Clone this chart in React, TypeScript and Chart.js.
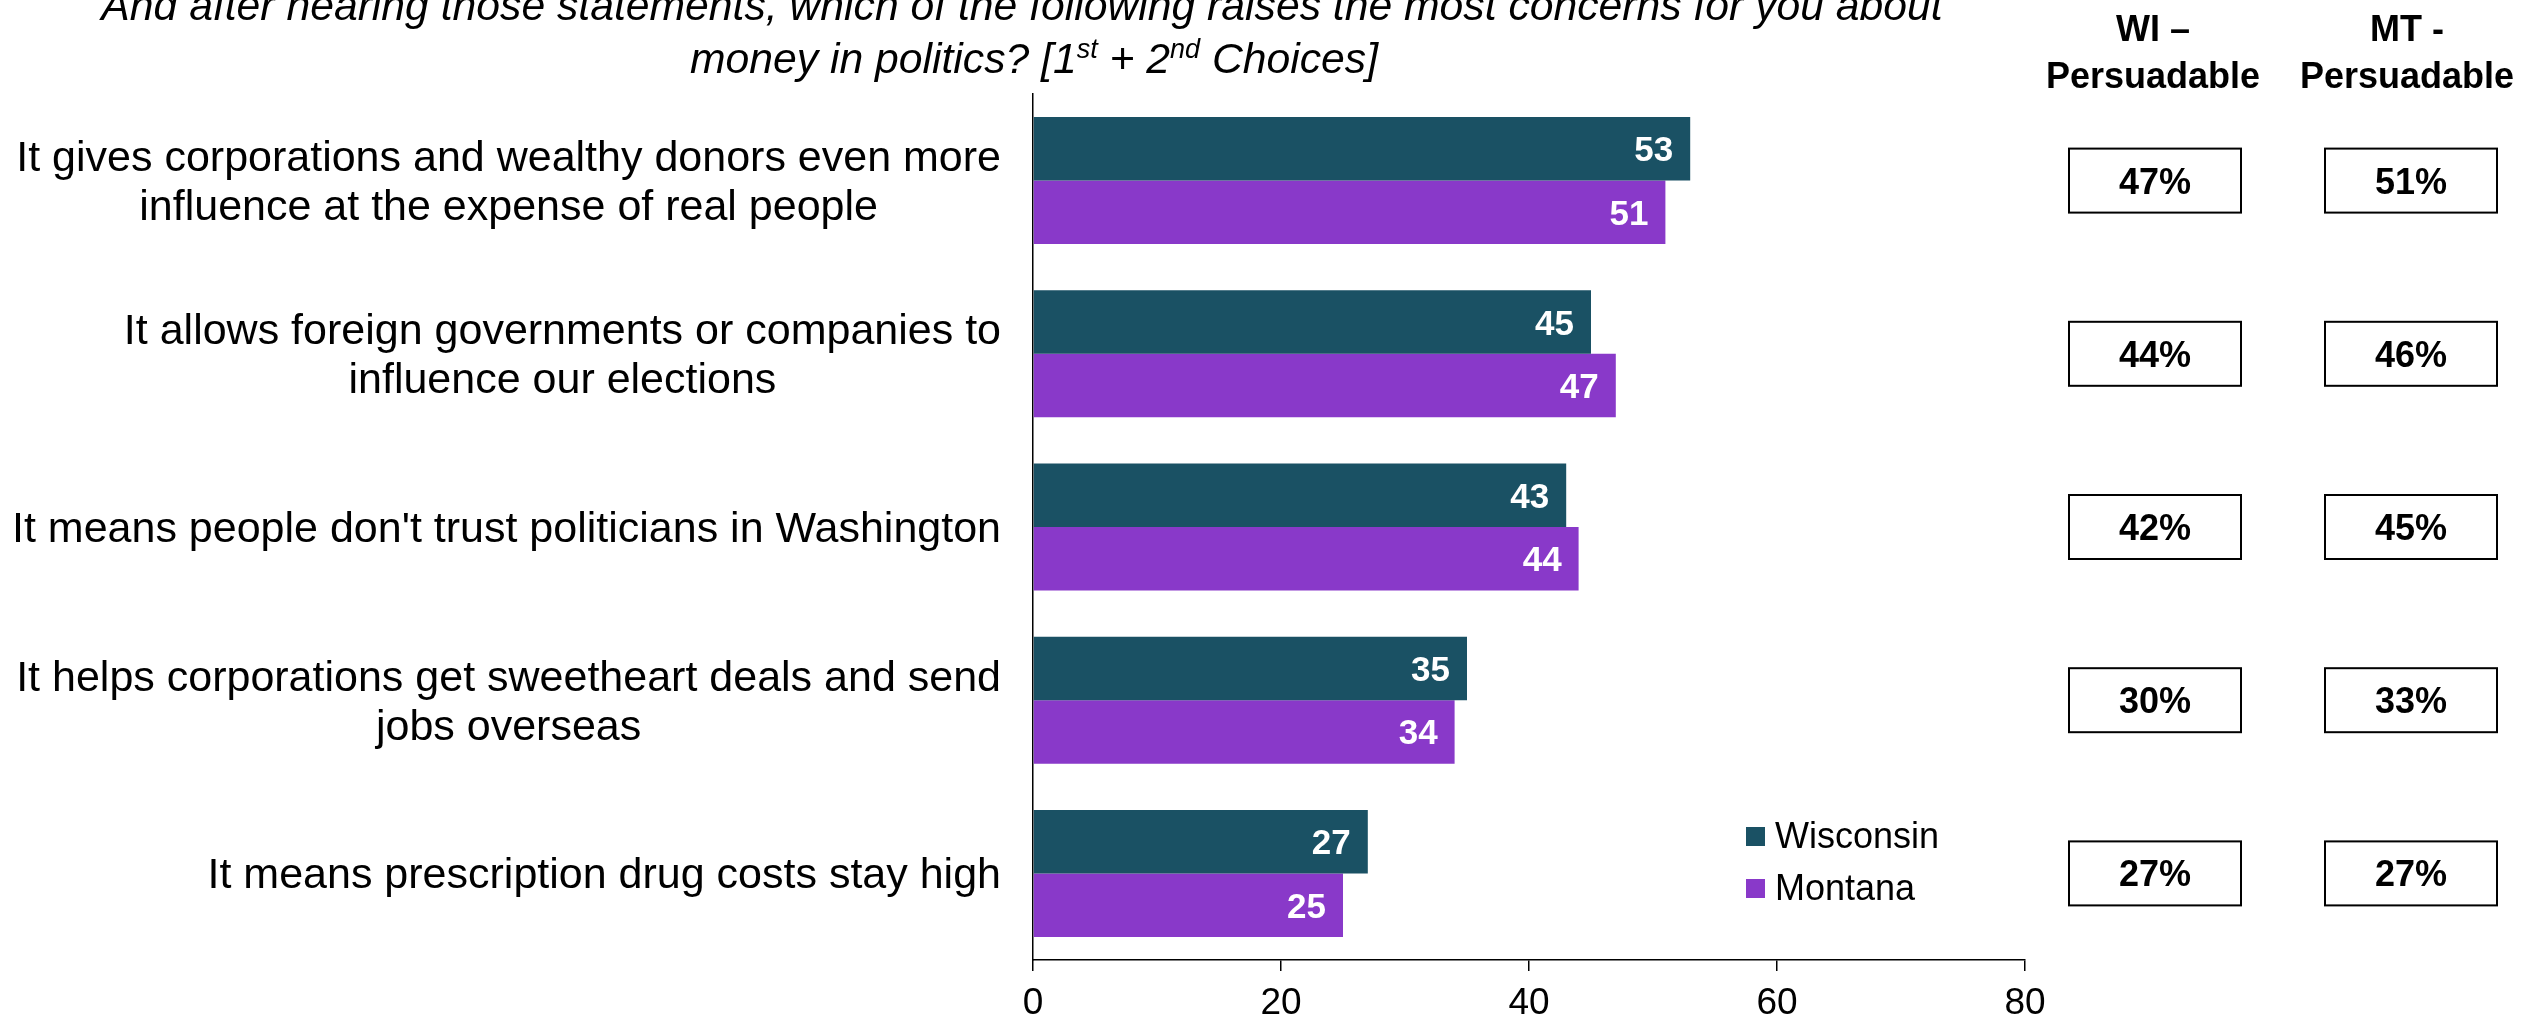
import { useEffect, useRef } from "react";
import { Chart, registerables } from "chart.js";

Chart.register(...registerables);

const FONT = '"Liberation Sans", Arial, Helvetica, sans-serif';

const categories: string[][] = [
  ["It gives corporations and wealthy donors even more", "influence at the expense of real people"],
  ["It allows foreign governments or companies to", "influence our elections"],
  ["It means people don't trust politicians in Washington"],
  ["It helps corporations get sweetheart deals and send", "jobs overseas"],
  ["It means prescription drug costs stay high"],
];

const seriesNames = ["Wisconsin", "Montana"];
const wisconsin = [53, 45, 43, 35, 27];
const montana = [51, 47, 44, 34, 25];
const seriesColors = ["#1A5164", "#8939C9"];

const wiPersuadable = [47, 44, 42, 30, 27];
const mtPersuadable = [51, 46, 45, 33, 27];
const sideHeaders = [
  ["WI \u2013", "Persuadable"],
  ["MT -", "Persuadable"],
];

const xTicks = [0, 20, 40, 60, 80];

const titleLine1 =
  "And after hearing those statements, which of the following raises the most concerns for you about";
const titleLine2 = [
  { t: "money in politics? [1", sup: false },
  { t: "st", sup: true },
  { t: " + 2", sup: false },
  { t: "nd", sup: true },
  { t: " Choices]", sup: false },
];

const decorations = {
  id: "decorations",
  afterDatasetsDraw(chart: any) {
    const ctx = chart.ctx;
    ctx.save();
    ctx.font = `bold 35px ${FONT}`;
    ctx.fillStyle = "#ffffff";
    ctx.textAlign = "right";
    ctx.textBaseline = "alphabetic";
    chart.data.datasets.forEach((ds: any, di: number) => {
      const meta = chart.getDatasetMeta(di);
      meta.data.forEach((el: any, i: number) => {
        const { x, y } = el.getProps(["x", "y"], true);
        ctx.fillText(String(ds.data[i]), x - 17, y + 12.5);
      });
    });
    ctx.restore();
  },
  afterDraw(chart: any) {
    const ctx = chart.ctx;
    const yScale = chart.scales.y;
    ctx.save();

    // Category labels
    ctx.font = `43px ${FONT}`;
    ctx.fillStyle = "#000";
    ctx.textAlign = "center";
    ctx.textBaseline = "middle";
    const labelRight = 1001;
    const lh = 49;
    (chart.data.labels as string[][]).forEach((lines, i) => {
      const yc = yScale.getPixelForValue(i) + 3;
      const w = Math.max(...lines.map((l) => ctx.measureText(l).width));
      const cx = labelRight - w / 2;
      lines.forEach((l, k) => {
        ctx.fillText(l, cx, yc + (k - (lines.length - 1) / 2) * lh);
      });
    });

    // Title
    ctx.font = `italic 42.7px ${FONT}`;
    ctx.textAlign = "center";
    ctx.textBaseline = "alphabetic";
    ctx.fillText(titleLine1, 1022, 20);
    const mainFont = `italic 42.7px ${FONT}`;
    const supFont = `italic 27px ${FONT}`;
    let total = 0;
    const widths = titleLine2.map((p) => {
      ctx.font = p.sup ? supFont : mainFont;
      const w = ctx.measureText(p.t).width;
      total += w;
      return w;
    });
    let x = 1034 - total / 2;
    ctx.textAlign = "left";
    titleLine2.forEach((p, k) => {
      ctx.font = p.sup ? supFont : mainFont;
      ctx.fillText(p.t, x, p.sup ? 73 - 15 : 73);
      x += widths[k];
    });

    // Side headers
    ctx.font = `bold 36px ${FONT}`;
    ctx.textAlign = "center";
    const headerX = [2153, 2407];
    sideHeaders.forEach((lines, j) => {
      ctx.fillText(lines[0], headerX[j], 41);
      ctx.fillText(lines[1], headerX[j], 88);
    });

    // Side boxes
    const boxX = [2155, 2411];
    const sideVals = [wiPersuadable, mtPersuadable];
    ctx.lineWidth = 2;
    ctx.strokeStyle = "#000";
    sideVals.forEach((vals, j) => {
      vals.forEach((v, i) => {
        const yc = yScale.getPixelForValue(i);
        ctx.strokeRect(boxX[j] - 86, yc - 32, 172, 64);
        ctx.fillText(`${v}%`, boxX[j], yc + 13);
      });
    });

    // Legend
    ctx.font = `36px ${FONT}`;
    ctx.textAlign = "left";
    const legendY = [827, 879];
    seriesNames.forEach((name, j) => {
      ctx.fillStyle = seriesColors[j];
      ctx.fillRect(1746, legendY[j], 19, 19);
      ctx.fillStyle = "#000";
      ctx.fillText(name, 1775, legendY[j] + 21);
    });

    ctx.restore();
  },
};

export default function App() {
  const ref = useRef<HTMLCanvasElement>(null);
  useEffect(() => {
    const chart = new Chart(ref.current as HTMLCanvasElement, {
      type: "bar",
      data: {
        labels: categories as any,
        datasets: [
          {
            label: seriesNames[0],
            data: wisconsin,
            backgroundColor: seriesColors[0],
            barPercentage: 1,
            categoryPercentage: 0.733,
          },
          {
            label: seriesNames[1],
            data: montana,
            backgroundColor: seriesColors[1],
            barPercentage: 1,
            categoryPercentage: 0.733,
          },
        ],
      },
      options: {
        indexAxis: "y",
        animation: false,
        responsive: false,
        devicePixelRatio: 1,
        layout: { padding: { top: 94, right: 502, left: 0, bottom: 0 } },
        plugins: {
          legend: { display: false },
          title: { display: false },
          tooltip: { enabled: false },
        },
        scales: {
          x: {
            min: xTicks[0],
            max: xTicks[xTicks.length - 1],
            ticks: {
              stepSize: 20,
              font: { size: 37, family: FONT },
              color: "#000",
              padding: 11,
              maxRotation: 0,
            },
            grid: {
              drawOnChartArea: false,
              drawTicks: true,
              tickLength: 11,
              color: "#000",
              lineWidth: 1.5,
            },
            border: { display: true, color: "#000", width: 1.5 },
            afterFit(s: any) {
              s.height = 63;
            },
          },
          y: {
            ticks: { display: false },
            grid: { display: false },
            border: { display: true, color: "#000", width: 1.5 },
            afterFit(s: any) {
              s.width = 1033;
            },
          },
        },
      } as any,
      plugins: [decorations],
    });
    return () => chart.destroy();
  }, []);
  return (
    <div
      style={{
        position: "fixed",
        left: 0,
        top: 0,
        width: 2527,
        height: 1023,
        background: "#fff",
      }}
    >
      <canvas
        ref={ref}
        width={2527}
        height={1023}
        style={{ display: "block", width: 2527, height: 1023 }}
      />
    </div>
  );
}
